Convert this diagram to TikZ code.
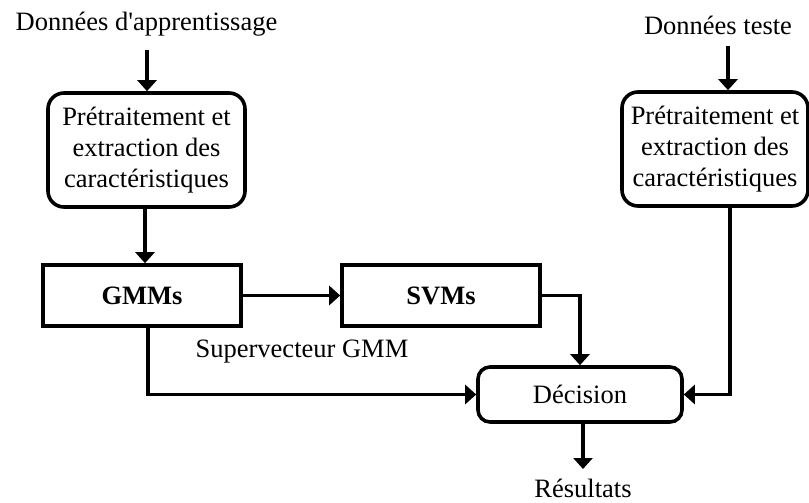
\documentclass[tikz,border=0pt]{standalone}
\usepackage{fontspec}
\setmainfont{Liberation Serif}
\usetikzlibrary{arrows.meta}

\begin{document}
\begin{tikzpicture}[x=1pt,y=-1pt,
  line width=3.6pt,
  every node/.style={font=\fontsize{26.5}{31}\selectfont, inner sep=0pt},
  proc/.style={draw, rounded corners=16pt, align=center, minimum height=114pt},
  block/.style={draw, align=center, minimum width=198pt, minimum height=61pt, font=\fontsize{26.5}{31}\selectfont\bfseries},
  term/.style={draw, rounded corners=12pt, minimum width=204pt, minimum height=55pt},
  arr/.style={-{Triangle[width=19pt,length=11pt]}}
]
\useasboundingbox (0,0) rectangle (809,503);

% inputs and output labels
\node (dapp) at (146.5,24) {Donn\'ees d\textquotesingle apprentissage};
\node (dtest) at (718,25) {Donn\'ees teste};
\node (res) at (583,488) {R\'esultats};
\node (sgmm) at (302,352) {Supervecteur GMM};

% processing blocks
\node[proc, minimum width=197pt] (lp) at (146.5,150)
  {Pr\'etraitement et\\extraction des\\caract\'eristiques};
\node[proc, minimum width=186pt] (rp) at (715,149)
  {Pr\'etraitement et\\extraction des\\caract\'eristiques};
\node[block] (gmm) at (142,295.5) {GMMs};
\node[block] (svm) at (441,295.5) {SVMs};
\node[term] (dec) at (580,394.5) {D\'ecision};

% connector anchor columns
\coordinate (a1) at (147,50);
\coordinate (a2) at (728,46);
\coordinate (a3) at (730,0);
\coordinate (a4) at (148,0);
\coordinate (a5) at (583,0);
\coordinate (a6) at (145,0);

\draw[arr] (a1) -- (a1 |- lp.north);
\draw[arr] (a6 |- lp.south) -- (a6 |- gmm.north);
\draw[arr] (a2) -- (a2 |- rp.north);
\draw[arr] (gmm.east) -- (svm.west);
\draw[arr] (svm.east) -| (dec.north);
\draw[arr] (a4 |- gmm.south) |- (dec.west);
\draw[arr] (a3 |- rp.south) |- (dec.east);
\draw[arr] (a5 |- dec.south) -- (583,469);
\end{tikzpicture}
\end{document}
